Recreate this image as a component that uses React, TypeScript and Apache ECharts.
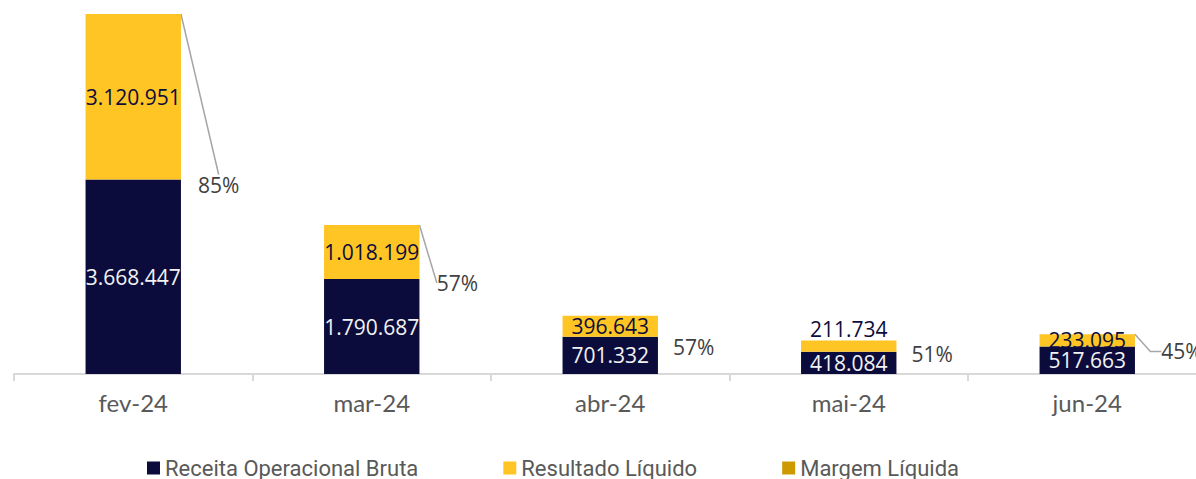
import React, { useEffect, useRef } from 'react';
import * as echarts from 'echarts';

const categories = ['fev-24', 'mar-24', 'abr-24', 'mai-24', 'jun-24'];
const receitaBruta = [3668447, 1790687, 701332, 418084, 517663];
const resultadoLiquido = [3120951, 1018199, 396643, 211734, 233095];
const margemLiquida = [0.85, 0.57, 0.57, 0.51, 0.45];

// style: placement of labels (not data)
const resultadoLabelPos = ['inside', 'inside', 'inside', 'top', 'inside'];
const marginLabelOffset = [
  [8, 171],
  [8.4, 58],
  [6, 31.5],
  [6, 13.7],
  [17.4, 17.3],
];
const marginLeaderLine = [
  { show: true, length2: 0 },
  { show: true, length2: 0 },
  { show: false },
  { show: false },
  { show: true, length2: 11 },
];

const NAVY = '#0C0C3C';
const YELLOW = '#FEC524';
const GOLD = '#CC9900';

const fmt = (v: number) =>
  Math.round(v)
    .toString()
    .replace(/\B(?=(\d{3})+(?!\d))/g, '.');

export default function App() {
  const ref = useRef<HTMLDivElement>(null);

  useEffect(() => {
    if (!ref.current) return;
    const chart = echarts.init(ref.current, null, { renderer: 'svg' });
    const totals = receitaBruta.map((v, i) => v + resultadoLiquido[i]);
    const yMax = Math.max(...totals);

    chart.setOption({
      animation: false,
      grid: { left: 14, right: 0.5, top: 14, bottom: 105, containLabel: false },
      legend: {
        data: ['Receita Operacional Bruta', 'Resultado Líquido', 'Margem Líquida'],
        left: 147,
        top: 457,
        padding: 0,
        icon: 'rect',
        itemWidth: 13,
        itemHeight: 13,
        itemGap: 85,
        textStyle: { fontFamily: 'Roboto', fontSize: 22, color: '#595959' },
      },
      xAxis: {
        type: 'category',
        data: categories,
        axisLine: { show: true, lineStyle: { color: '#D9D9D9', width: 2 } },
        axisTick: { show: true, length: 7, lineStyle: { color: '#D9D9D9', width: 2 } },
        axisLabel: { fontFamily: 'Lato', fontSize: 24, color: '#595959', margin: 16 },
        splitLine: { show: false },
      },
      yAxis: {
        type: 'value',
        show: false,
        min: 0,
        max: yMax,
        splitLine: { show: false },
      },
      series: [
        {
          name: 'Receita Operacional Bruta',
          type: 'bar',
          stack: 'total',
          barWidth: '40%',
          clip: false,
          itemStyle: { color: NAVY },
          label: {
            show: true,
            position: 'inside',
            fontFamily: 'Open Sans',
            fontSize: 21,
            color: '#F2F2F2',
            formatter: (p: any) => fmt(p.value),
          },
          data: receitaBruta,
        },
        {
          name: 'Resultado Líquido',
          type: 'bar',
          stack: 'total',
          barWidth: '40%',
          clip: false,
          itemStyle: { color: YELLOW },
          label: {
            show: true,
            position: 'inside',
            distance: 1,
            fontFamily: 'Open Sans',
            fontSize: 21,
            color: '#0D0D3B',
            formatter: (p: any) => fmt(p.value),
          },
          data: resultadoLiquido.map((v, i) => ({
            value: v,
            label: { position: resultadoLabelPos[i] },
          })),
        },
        {
          name: 'Margem Líquida',
          type: 'bar',
          stack: 'total',
          barWidth: '40%',
          clip: false,
          itemStyle: { color: GOLD },
          label: {
            show: true,
            position: 'right',
            distance: 0,
            padding: [10, 9, 10, 9],
            fontFamily: 'Open Sans',
            fontSize: 21,
            color: '#404040',
            formatter: (p: any) => Math.round(p.value * 100) + '%',
          },
          labelLine: { show: true, length2: 0, lineStyle: { color: '#A6A6A6', width: 1.5 } },
          labelLayout: (p: any) => {
            const o = marginLabelOffset[p.dataIndex];
            return {
              x: p.rect.x + p.rect.width + o[0],
              y: p.rect.y + p.rect.height / 2 + o[1],
              align: 'left',
              verticalAlign: 'middle',
            };
          },
          data: margemLiquida.map((v, i) => ({
            value: v,
            labelLine: marginLeaderLine[i],
          })),
        },
      ],
    });

    return () => chart.dispose();
  }, []);

  return (
    <div
      style={{
        position: 'fixed',
        left: 0,
        top: 0,
        width: 1196,
        height: 479,
        overflow: 'hidden',
        background: '#fff',
      }}
    >
      <div ref={ref} style={{ width: 1207, height: 479 }} />
    </div>
  );
}
